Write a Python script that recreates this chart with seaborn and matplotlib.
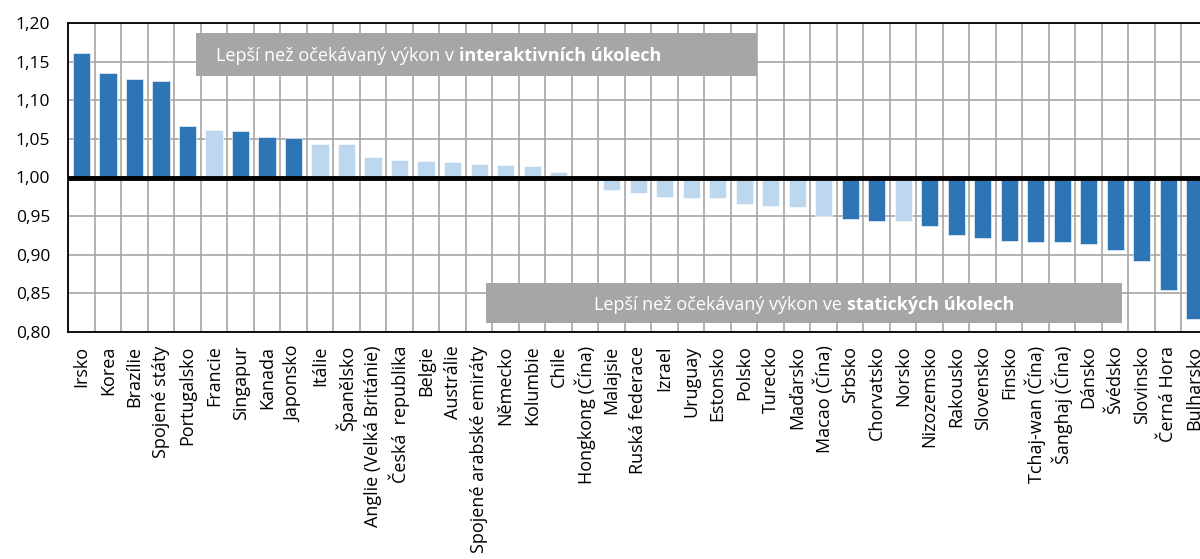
import numpy as np
import pandas as pd
import matplotlib
matplotlib.use("Agg")
import matplotlib.pyplot as plt
from matplotlib.patches import Rectangle
from matplotlib.ticker import FuncFormatter
import seaborn as sns

countries = ["Irsko", "Korea", "Brazílie", "Spojené státy", "Portugalsko", "Francie",
             "Singapur", "Kanada", "Japonsko", "Itálie", "Španělsko",
             "Anglie (Velká Británie)", "Česká  republika", "Belgie", "Austrálie",
             "Spojené arabské emiráty", "Německo", "Kolumbie", "Chile", "Hongkong (Čína)",
             "Malajsie", "Ruská federace", "Izrael", "Uruguay", "Estonsko", "Polsko",
             "Turecko", "Maďarsko", "Macao (Čína)", "Srbsko", "Chorvatsko", "Norsko",
             "Nizozemsko", "Rakousko", "Slovensko", "Finsko", "Tchaj-wan (Čína)",
             "Šanghaj (Čína)", "Dánsko", "Švédsko", "Slovinsko", "Černá Hora", "Bulharsko"]
values = [1.162, 1.136, 1.128, 1.125, 1.067, 1.061, 1.060, 1.053, 1.051, 1.044, 1.043,
          1.026, 1.023, 1.021, 1.020, 1.0175, 1.0165, 1.0145, 1.007, 0.999,
          0.984, 0.980, 0.975, 0.9735, 0.973, 0.966, 0.963, 0.962, 0.950, 0.946, 0.944,
          0.943, 0.937, 0.9255, 0.9215, 0.918, 0.916, 0.916, 0.914, 0.9065, 0.892,
          0.8545, 0.817]
# "sig" = significant difference (dark), "ns" = not significant (light)
groups = ["sig", "sig", "sig", "sig", "sig", "ns", "sig", "sig", "sig", "ns", "ns",
          "ns", "ns", "ns", "ns", "ns", "ns", "ns", "ns", "ns",
          "ns", "ns", "ns", "ns", "ns", "ns", "ns", "ns", "ns", "sig", "sig",
          "ns", "sig", "sig", "sig", "sig", "sig", "sig", "sig", "sig", "sig",
          "sig", "sig"]

df = pd.DataFrame({"country": countries, "value": values, "group": groups})
df["diff"] = df["value"] - 1.0

sns.set_style("white")
plt.rcParams["font.family"] = ["Open Sans", "DejaVu Sans"]

W, H = 1200, 559
fig = plt.figure(figsize=(W / 100, H / 100), dpi=100)
ax = fig.add_axes([68.3 / W, (H - 331.7) / H, 1139.7 / W, 308.4 / H])

sns.barplot(data=df, x="country", y="diff", hue="group", order=countries,
            palette={"sig": "#2E75B6", "ns": "#BDD7EE"}, saturation=1, width=0.65,
            dodge=False, bottom=1.0, legend=False, edgecolor="white", linewidth=0.4,
            ax=ax, zorder=2)

ax.set_ylim(0.80, 1.20)
ax.set_xlim(-0.5, len(countries) - 0.5)
ax.set_yticks(np.arange(0.80, 1.2001, 0.05))
ax.yaxis.set_major_formatter(FuncFormatter(lambda v, p: f"{v:.2f}".replace(".", ",")))
ax.set_xticks(np.arange(-0.5, len(countries), 1), minor=True)

ax.grid(axis="y", which="major", color="#A6A6A6", lw=1.2, zorder=0)
ax.grid(axis="x", which="minor", color="#A6A6A6", lw=1.2, zorder=0)
ax.set_axisbelow(True)
ax.axhline(1.0, color="black", lw=3.5, zorder=3)

ax.tick_params(axis="y", length=0, pad=13, labelsize=12.5, colors="black")
ax.tick_params(axis="x", which="major", length=0, pad=10, labelsize=13,
               labelrotation=90, colors="black")
ax.tick_params(axis="x", which="minor", length=4, color="black")
for lab in ax.get_xticklabels():
    lab.set_verticalalignment("top")
ax.set_xlabel("")
ax.set_ylabel("")
for s in ax.spines.values():
    s.set_color("black")
    s.set_linewidth(1.3)


def px_box(x0, y0, x1, y1):
    fig.add_artist(Rectangle((x0 / W, (H - y1) / H), (x1 - x0) / W, (y1 - y0) / H,
                             transform=fig.transFigure, facecolor="#A6A6A6",
                             edgecolor="none", zorder=5))


px_box(196, 33, 757, 75.7)
px_box(486, 283, 1122, 323)

txt = dict(color="white", fontsize=13, va="baseline", ha="left", zorder=6)
t1 = fig.text(216 / W, (H - 61) / H, "Lepší než očekávaný výkon v", **txt)
t2 = fig.text(0, (H - 61) / H, "interaktivních úkolech", fontweight="bold", **txt)
t3 = fig.text(0, (H - 309.5) / H, "Lepší než očekávaný výkon ve", **txt)
t4 = fig.text(0, (H - 309.5) / H, "statických úkolech", fontweight="bold", **txt)

fig.canvas.draw()
gap = 5
b1 = t1.get_window_extent()
t2.set_x((b1.x1 + gap) / W)
w3 = t3.get_window_extent().width
w4 = t4.get_window_extent().width
start = 804 - (w3 + gap + w4) / 2
t3.set_x(start / W)
t4.set_x((start + w3 + gap) / W)

fig.savefig("out.png", dpi=100)
